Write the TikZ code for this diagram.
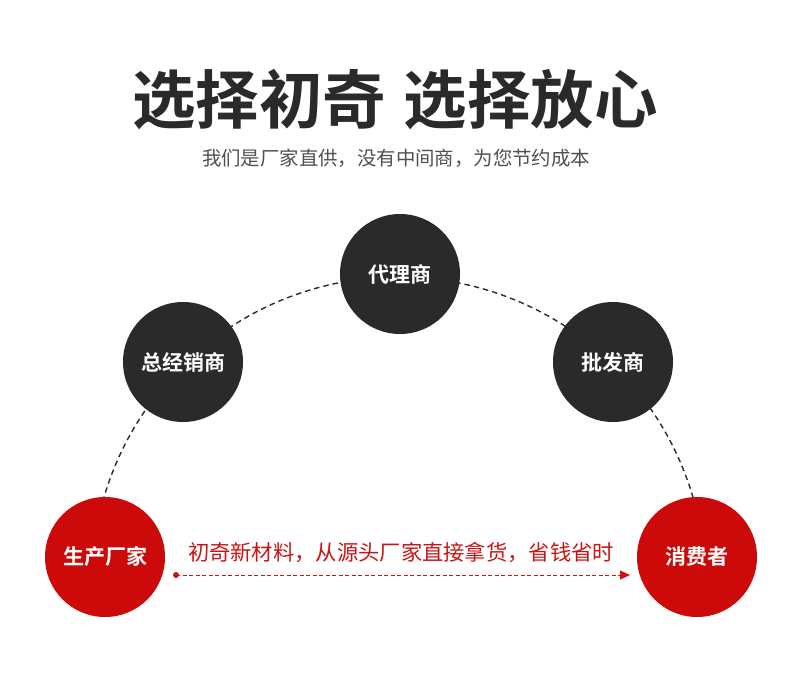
\documentclass[tikz,border=0pt]{standalone}
\usepackage{fontspec}
\newfontfamily\cjk{Noto Sans CJK SC}
\newfontfamily\cjkb{Noto Sans CJK SC Bold}
\usetikzlibrary{arrows.meta}
\definecolor{darkc}{HTML}{2A2A2A}
\definecolor{redc}{HTML}{CC0A0A}
\definecolor{redt}{HTML}{C81414}
\definecolor{subg}{HTML}{505050}
\begin{document}
\begin{tikzpicture}[x=1pt,y=-1pt,
  darkball/.style={circle,fill=darkc,minimum size=120pt,inner sep=0pt,text=white,font=\cjkb\fontsize{21}{24}\selectfont},
  redball/.style={circle,fill=redc,minimum size=120pt,inner sep=0pt,text=white,font=\cjkb\fontsize{21}{24}\selectfont},
  arcline/.style={draw=darkc,line width=1.4pt,dash pattern=on 5.5pt off 4pt}]
\useasboundingbox (0,0) rectangle (790,689);
\fill[white] (0,0) rectangle (790,689);
\node[font=\cjkb\fontsize{63.5}{72}\selectfont,text=darkc] (title) at (395,100) {选择初奇\hspace{18pt}选择放心};
\node[font=\cjk\fontsize{19.4}{23}\selectfont,text=subg] (sub) at (396,158) {我们是厂家直供，没有中间商，为您节约成本};
\coordinate (arcc) at (398.5,584);
\draw[arcline] (arcc) ++(192:307) arc[start angle=192,end angle=348,radius=307];
\node[redball] (p1) at (105,557) {生产厂家};
\node[darkball] (p2) at (183,362) {总经销商};
\node[darkball] (p3) at (400,274) {代理商};
\node[darkball] (p4) at (613,362) {批发商};
\node[redball] (p5) at (697,557) {消费者};
\node[font=\cjk\fontsize{21.3}{24}\selectfont,text=redt] (msg) at (401,552) {初奇新材料，从源头厂家直接拿货，省钱省时};
\coordinate (a1) at (176,575);
\coordinate (a2) at (630,575);
\fill[redt] (a1) circle (3pt);
\draw[redt,line width=1pt,dash pattern=on 4pt off 2.5pt,-{Triangle[length=10pt,width=9pt]}] (a1) -- (a2);
\end{tikzpicture}
\end{document}
